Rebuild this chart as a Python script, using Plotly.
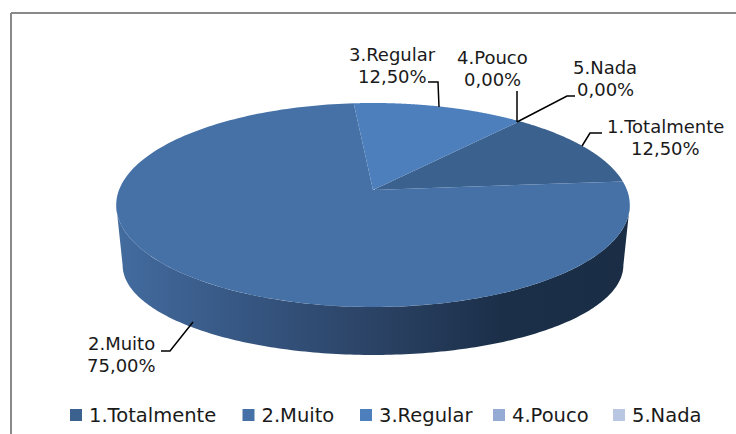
import numpy as np
import plotly.graph_objects as go

categorias = ['1.Totalmente', '2.Muito', '3.Regular', '4.Pouco', '5.Nada']
valores = [12.5, 75.0, 12.5, 0.0, 0.0]
colores = ['#3B618F', '#4571A7', '#4C7FBB', '#95ABD3', '#B9C7E2']

# Geometria del disco en perspectiva (ejes en pixeles de la imagen)
CX, CY = 373, 190
RX, RY = 254, 99.8
PERSP = 0.147
GIRO = 40  # angulo de la primera porcion
ALTO = 62
ESC_X, ESC_Y = 0.975, 0.88  # la base se ve algo mas plana

# Posicion de los textos y guias
etiqueta_x = [665, 121, 392, 492, 605]
etiqueta_y = [126, 343, 54, 57, 67]
guia_x = [[602, 590, 582], [161, 170, 193], [428, 438, 439], [517, 517], [575, 567, 517]]
guia_y = [[133, 133, 146], [351, 351, 322], [82, 82, 107], [91, 122], [96, 96, 122]]
leyenda_x = [76, 248.5, 366, 499, 619]
LEYENDA_Y = 415


def proyecta(theta, esc_x=1.0, esc_y=1.0, dy=0.0):
    t = np.radians(theta)
    s = 1 / (1 + PERSP * np.cos(t))
    return CX + esc_x * RX * np.sin(t) * s, CY + dy - esc_y * RY * np.cos(t) * s


fig = go.Figure()

# Pared lateral con degradado, de tangente a tangente
tangente = np.degrees(np.arccos(-PERSP))
th = np.linspace(tangente, 360 - tangente, 181)
x_sup, y_sup = proyecta(th)
x_inf, y_inf = proyecta(th[::-1], ESC_X, ESC_Y, ALTO)
fig.add_trace(go.Scatter(x=np.r_[x_sup, x_inf], y=np.r_[y_sup, y_inf],
                         mode='none', fill='toself', showlegend=False, hoverinfo='skip',
                         fillgradient=dict(type='horizontal', start=116, stop=630,
                                           colorscale=[[0, '#436C9F'], [0.25, '#365682'],
                                                       [0.5, '#2B4365'], [0.75, '#1B2F49'],
                                                       [1, '#1A2D45']])))

# Porciones superiores
inicio = GIRO
for nombre, valor, color in zip(categorias, valores, colores):
    fin = inicio + valor * 3.6
    th = np.linspace(inicio, fin, 200)
    x_arco, y_arco = proyecta(th)
    fig.add_trace(go.Scatter(x=np.r_[CX, x_arco, CX], y=np.r_[CY, y_arco, CY],
                             mode='none', fill='toself', fillcolor=color,
                             showlegend=False, name=nombre))
    inicio = fin

# Guias
for gx, gy in zip(guia_x, guia_y):
    fig.add_trace(go.Scatter(x=gx, y=gy, mode='lines', line=dict(color='black', width=1.5),
                             showlegend=False, hoverinfo='skip'))

# Leyenda
for nombre, color, lx in zip(categorias, colores, leyenda_x):
    fig.add_trace(go.Scatter(x=[lx], y=[LEYENDA_Y], mode='markers', name=nombre,
                             marker=dict(symbol='square', size=12, color=color),
                             showlegend=False))
    fig.add_trace(go.Scatter(x=[lx + 13], y=[LEYENDA_Y + 2], mode='text', name=nombre,
                             text=[nombre], textposition='middle right',
                             textfont=dict(size=19.5, color='#1a1a1a'),
                             showlegend=False, hoverinfo='skip'))

# Etiquetas
for nombre, valor, ex, ey in zip(categorias, valores, etiqueta_x, etiqueta_y):
    pct = f'{valor:.2f}%'.replace('.', ',')
    for texto, dy in ((nombre, 0), (pct, 22)):
        fig.add_annotation(x=ex, y=ey + dy, text=texto, showarrow=False,
                           font=dict(size=18, color='#1a1a1a'))

# Marco
fig.add_shape(type='line', x0=11, x1=736, y0=13, y1=13, line=dict(color='#898989', width=2))
fig.add_shape(type='line', x0=11, x1=11, y0=13, y1=434, line=dict(color='#898989', width=2))

fig.update_layout(width=736, height=434, margin=dict(l=0, r=0, t=0, b=0),
                  paper_bgcolor='white', plot_bgcolor='white',
                  font=dict(family='DejaVu Sans', color='#1a1a1a'),
                  xaxis=dict(range=[0, 736], visible=False),
                  yaxis=dict(range=[434, 0], visible=False))

fig.write_html('out.html', config=dict(displayModeBar=False),
               post_script="document.body.style.margin='0';")
